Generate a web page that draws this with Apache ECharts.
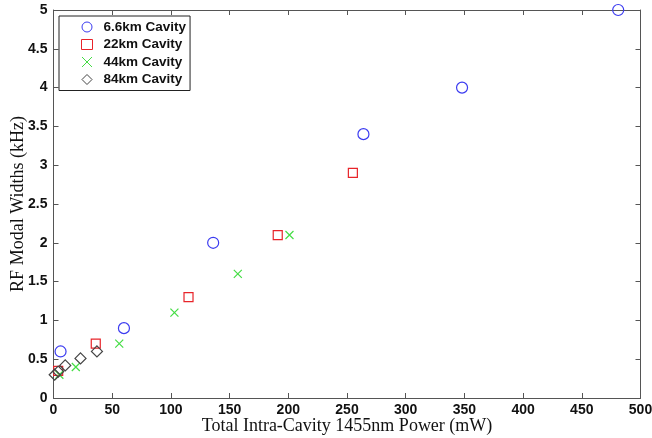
<!DOCTYPE html>
<html><head><meta charset="utf-8">
<script src="https://cdn.jsdelivr.net/npm/echarts@6/dist/echarts.min.js"></script>
<style>html,body{margin:0;padding:0;background:#fff}#c{width:652px;height:438px}</style>
</head><body><div id="c"></div>
<script>
const seriesNames = ['6.6km Cavity', '22km Cavity', '44km Cavity', '84km Cavity'];
const cavity66 = [[6,0.6],[60,0.9],[136,2.0],[264,3.4],[348,4.0],[481,5.0]];
const cavity22 = [[4,0.35],[36,0.7],[115,1.3],[191,2.1],[255,2.9]];
const cavity44 = [[5,0.3],[19,0.4],[56,0.7],[103,1.1],[157,1.6],[201,2.1]];
const cavity84 = [[1,0.3],[4,0.34],[10,0.42],[23,0.51],[37,0.6]];
const xTitle = 'Total Intra-Cavity 1455nm Power (mW)';
const yTitle = 'RF Modal Widths (kHz)';

const colors = ['#3b3bf0', '#e8242a', '#44dd44', '#444444'];
const symbols = ['circle', 'rect', 'path://M0,0L10,10M10,0L0,10', 'path://M5,0L10,5L5,10L0,5Z'];
const sizes = [11, 9, 8, 11];
const datasets = [cavity66, cavity22, cavity44, cavity84];

function axisCommon() {
  return {
    axisLine: {show: true, onZero: false, lineStyle: {color: '#555', width: 1}},
    axisTick: {show: true, inside: true, length: 5, lineStyle: {color: '#555'}},
    splitLine: {show: false}
  };
}
const labelStyle = {fontFamily: 'Liberation Sans, Arial', fontWeight: 'bold', fontSize: 14, color: '#111'};
const titleStyle = {fontFamily: 'Liberation Serif, Times New Roman', fontSize: 18, color: '#111'};

const chart = echarts.init(document.getElementById('c'), null, {renderer: 'canvas'});
chart.setOption({
  animation: false,
  backgroundColor: '#fff',
  grid: {left: 53.5, right: 11.5, top: 10, bottom: 40, containLabel: false, outerBoundsMode: 'none'},
  legend: {
    orient: 'vertical', left: 59, top: 16,
    data: seriesNames,
    borderColor: '#222', borderWidth: 1, backgroundColor: '#fff',
    padding: [4, 4, 4, 22], itemGap: 3.5, itemWidth: 11, itemHeight: 10,
    itemStyle: {borderWidth: 1},
    textStyle: {fontFamily: 'Liberation Sans, Arial', fontWeight: 'bold', fontSize: 13.5, color: '#111', padding: [0, 0, 0, 6]}
  },
  xAxis: [
    Object.assign({type: 'value', min: 0, max: 500, interval: 50, position: 'bottom',
      axisLabel: Object.assign({margin: 5}, labelStyle),
      name: xTitle, nameLocation: 'middle', nameGap: 19, nameMoveOverlap: false, nameTextStyle: titleStyle}, axisCommon()),
    Object.assign({type: 'value', min: 0, max: 500, interval: 50, position: 'top', axisLabel: {show: false}}, axisCommon())
  ],
  yAxis: [
    Object.assign({type: 'value', min: 0, max: 5, interval: 0.5, position: 'left',
      axisLabel: Object.assign({margin: 6}, labelStyle),
      name: yTitle, nameLocation: 'middle', nameGap: 26, nameMoveOverlap: false, nameTextStyle: titleStyle}, axisCommon()),
    Object.assign({type: 'value', min: 0, max: 5, interval: 0.5, position: 'right', axisLabel: {show: false}}, axisCommon())
  ],
  series: datasets.map((d, i) => ({
    name: seriesNames[i], type: 'scatter', data: d,
    symbol: symbols[i], symbolSize: sizes[i],
    itemStyle: {color: 'rgba(0,0,0,0)', borderColor: colors[i], borderWidth: 1.2, opacity: 1},
    z: 2
  }))
});
</script></body></html>
